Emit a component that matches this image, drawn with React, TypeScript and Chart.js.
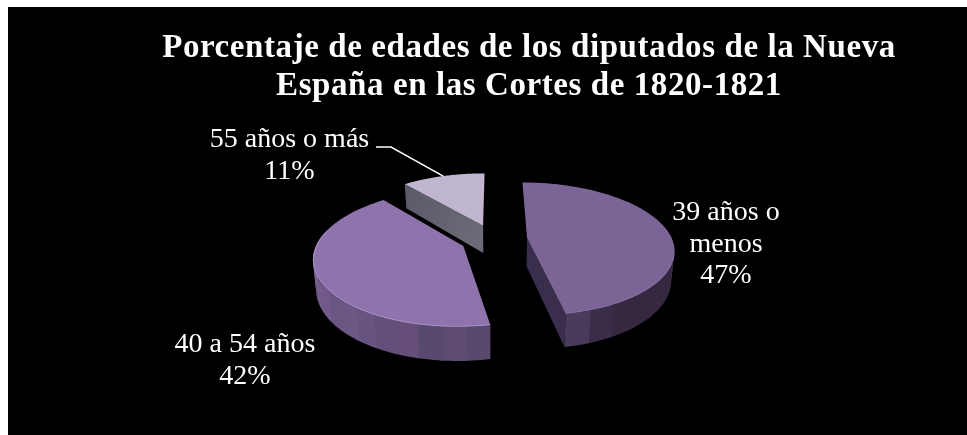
import React, { useEffect, useRef } from "react";
import { Chart, registerables } from "chart.js";

Chart.register(...registerables);

const titleLines = [
  "Porcentaje de edades de los diputados de la Nueva",
  "España en las Cortes de 1820-1821",
];
const categories = ["39 años o menos", "40 a 54 años", "55 años o más"];
const categoryLines = [["39 años o", "menos"], ["40 a 54 años"], ["55 años o más"]];
const shares = [47, 42, 11];

const topColors = ["#7a6596", "#8e73ad", "#c0b6d0"];
const cutWallColors = [
  ["#3a2e4e", "#3a2e4c"],
  ["#5c4a70", "#5c4a70"],
  ["#595a66", "#6b6b78"],
];
// Outer wall shades, one band each, running clockwise through the slice.
const rimShades = [
  ["#3c2e48", "#3c2e48", "#3c2e48", "#3c2e48", "#3c2e48", "#3c2e48", "#3c2e48", "#3c2e48", "#3c2e48", "#3c2e48", "#3a2c46", "#382a44", "#372942", "#362840", "#362840", "#362840", "#372942", "#3a2d4a", "#483c5a"],
  ["#574a6c", "#5e4b72", "#584a6e", "#654f78", "#62507a", "#685480", "#6c5884", "#6a5682", "#72598a", "#725c8a", "#7a6292", "#7c6496", "#8066a0", "#8468a2", "#8769a4", "#886ca6", "#886ca6", "#886ca6", "#886ca6"],
  ["#6b6b78", "#6b6b78"],
];
const rimHighlights = ["rgba(150,130,175,0.55)", "rgba(176,152,208,0.85)", "rgba(0,0,0,0)"];

const EXPLODE = 23;
const CANVAS_W = 959;
const CANVAS_H = 428;

// Tilted-disc projection: the far side of the pie is foreshortened.
const view = { shiftX: -35, radiusX: 145, radiusY: 65.2, depth: 28, perspective: 0.164, baseShrink: 0.018 };

type Slice = { x: number; y: number; start: number; end: number; r: number; offset: number };

function project(s: Slice, t: number, radial: number, lowered: number) {
  const mid = (s.start + s.end) / 2;
  const shift = s.offset / s.r;
  const u = radial * Math.cos(t) + shift * Math.cos(mid);
  const v = -radial * Math.sin(t) - shift * Math.sin(mid);
  const den = 1 + view.perspective * v;
  return {
    x: s.x + view.shiftX + (view.radiusX * u * (1 - lowered * view.baseShrink)) / den,
    y: s.y - (view.radiusY * v) / den + (lowered * view.depth) / den,
  };
}

function sliceOf(el: any): Slice {
  return {
    x: el.x,
    y: el.y,
    start: el.startAngle,
    end: el.endAngle,
    r: el.outerRadius,
    offset: el.options.offset,
  };
}

const tiltedPie = {
  id: "tiltedPie",
  beforeDraw(chart: any, _args: any, opts: any) {
    // the title box is painted before the datasets and picks this up
    chart.ctx.letterSpacing = opts.titleTracking;
  },
  beforeDatasetDraw(chart: any) {
    const ctx: CanvasRenderingContext2D = chart.ctx;
    (ctx as any).letterSpacing = "0px";
    const arcs = chart.getDatasetMeta(0).data;
    const order = [2, 0, 1];
    for (const i of order) {
      const s = sliceOf(arcs[i]);
      const steps = rimShades[i].length;
      const sweep = s.end - s.start;

      // outer wall, one band per shade, front-facing part only
      for (let b = 0; b < steps; b++) {
        const a0 = s.start + (sweep * b) / steps;
        const a1 = s.start + (sweep * (b + 1)) / steps;
        if (-Math.sin((a0 + a1) / 2) > 0.12) continue;
        // each band runs slightly under its neighbour so no seam shows
        const a1Over = b < steps - 1 ? a1 + 0.015 : a1;
        ctx.beginPath();
        for (let k = 0; k <= 6; k++) {
          const p = project(s, a0 + ((a1Over - a0) * k) / 6, 1, 0);
          k ? ctx.lineTo(p.x, p.y) : ctx.moveTo(p.x, p.y);
        }
        for (let k = 6; k >= 0; k--) {
          const p = project(s, a0 + ((a1Over - a0) * k) / 6, 1, 1);
          ctx.lineTo(p.x, p.y);
        }
        ctx.closePath();
        ctx.fillStyle = rimShades[i][b];
        ctx.fill();
      }

      // cut walls that face the viewer
      const edges: number[] = [];
      if (Math.sin(s.start + Math.PI / 2) < -0.01) edges.push(s.start);
      if (Math.sin(s.end + Math.PI / 2) > 0.01) edges.push(s.end);
      for (const t of edges) {
        const c0 = project(s, t, 0, 0);
        const r0 = project(s, t, 1, 0);
        const r1 = project(s, t, 1, 1);
        const c1 = project(s, t, 0, 1);
        const g = ctx.createLinearGradient(c0.x, c0.y, r0.x, r0.y);
        g.addColorStop(0, cutWallColors[i][i === 2 ? 1 : 0]);
        g.addColorStop(1, cutWallColors[i][i === 2 ? 0 : 1]);
        ctx.beginPath();
        ctx.moveTo(c0.x, c0.y);
        ctx.lineTo(r0.x, r0.y);
        ctx.lineTo(r1.x, r1.y);
        ctx.lineTo(c1.x, c1.y);
        ctx.closePath();
        ctx.fillStyle = g;
        ctx.fill();
      }

      // top face
      ctx.beginPath();
      const apex = project(s, s.start, 0, 0);
      ctx.moveTo(apex.x, apex.y);
      const n = 90;
      for (let k = 0; k <= n; k++) {
        const p = project(s, s.start + (sweep * k) / n, 1, 0);
        ctx.lineTo(p.x, p.y);
      }
      ctx.closePath();
      ctx.fillStyle = topColors[i];
      ctx.fill();

      // soft light along the front of the rim
      ctx.beginPath();
      let drawing = false;
      for (let k = 0; k <= n; k++) {
        const t = s.start + (sweep * k) / n;
        if (Math.sin(t) < 0.25 && Math.cos(t) > -0.97) {
          drawing = false;
          continue;
        }
        const p = project(s, t, 0.995, 0);
        drawing ? ctx.lineTo(p.x, p.y) : ctx.moveTo(p.x, p.y);
        drawing = true;
      }
      ctx.strokeStyle = rimHighlights[i];
      ctx.lineWidth = 1;
      ctx.stroke();
    }
    return false;
  },
  afterDatasetsDraw(chart: any, _args: any, opts: any) {
    const ctx: CanvasRenderingContext2D = chart.ctx;
    const arcs = chart.getDatasetMeta(0).data;
    ctx.save();
    ctx.fillStyle = "#ffffff";
    ctx.font = opts.font;
    ctx.textAlign = "center";
    ctx.textBaseline = "alphabetic";
    opts.spots.forEach((spot: { x: number; y: number }, i: number) => {
      const lines = [...categoryLines[i], `${shares[i]}%`];
      lines.forEach((line, j) => ctx.fillText(line, spot.x, spot.y + j * opts.lineGap));
    });

    // leader from the smallest slice to its label
    const s = sliceOf(arcs[2]);
    const end = project(s, (s.start + s.end) / 2, 1, 0);
    ctx.strokeStyle = "#ffffff";
    ctx.lineWidth = 1.5;
    ctx.beginPath();
    ctx.moveTo(opts.leader[0].x, opts.leader[0].y);
    ctx.lineTo(opts.leader[1].x, opts.leader[1].y);
    ctx.lineTo(end.x, end.y);
    ctx.stroke();
    ctx.restore();
  },
};

export default function App() {
  const ref = useRef<HTMLCanvasElement>(null);

  useEffect(() => {
    const chart = new Chart(ref.current!, {
      type: "pie",
      data: {
        labels: categories,
        datasets: [{ data: shares, backgroundColor: topColors, borderWidth: 0, offset: EXPLODE }],
      },
      options: {
        animation: false,
        responsive: false,
        layout: { padding: { left: 83, right: 0, top: 0, bottom: 84 } },
        plugins: {
          legend: { display: false },
          tooltip: { enabled: false },
          title: {
            display: true,
            text: titleLines,
            color: "#ffffff",
            font: { family: "'Liberation Serif'", size: 33, weight: "bold", lineHeight: 38 / 33 },
            padding: { top: 22, bottom: 23 },
          },
          tiltedPie: {
            titleTracking: "0.58px",
            font: "28px 'Liberation Serif'",
            lineGap: 31.5,
            spots: [
              { x: 718, y: 213 },
              { x: 237, y: 345 },
              { x: 281.5, y: 140 },
            ],
            leader: [
              { x: 368, y: 140 },
              { x: 383, y: 140 },
            ],
          },
        } as any,
      },
      plugins: [tiltedPie],
    });
    return () => chart.destroy();
  }, []);

  return (
    <div style={{ position: "fixed", left: 8, top: 7, right: 0, bottom: 0, background: "#000000" }}>
      <canvas ref={ref} width={CANVAS_W} height={CANVAS_H} style={{ display: "block" }} />
    </div>
  );
}
